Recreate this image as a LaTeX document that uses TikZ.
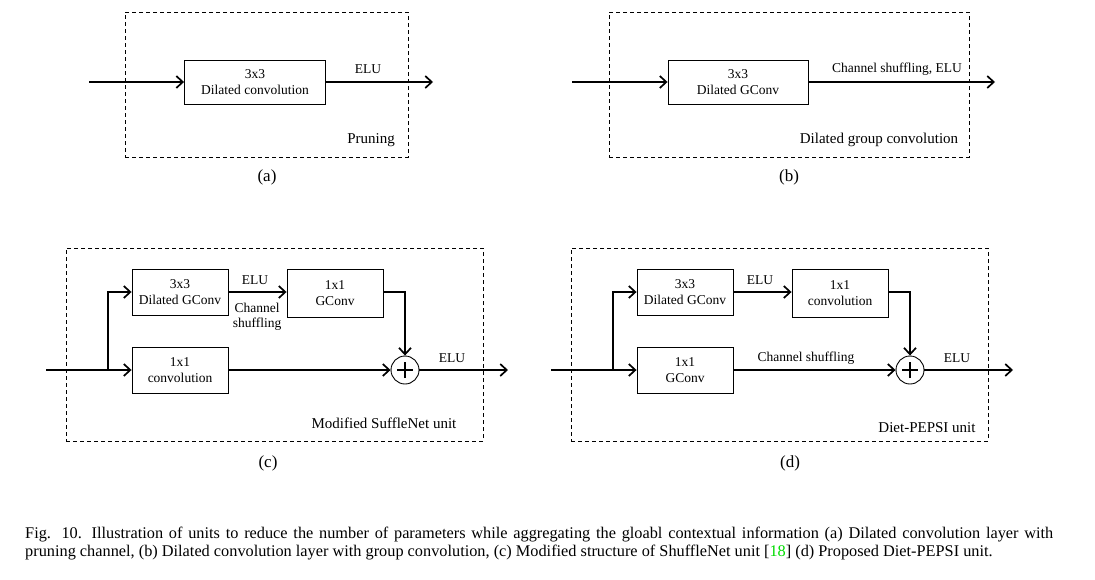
\documentclass[tikz,border=0pt]{standalone}
\usepackage{fontspec}
\setmainfont{Liberation Serif}
\usetikzlibrary{arrows.meta}
\definecolor{citegreen}{RGB}{0,220,0}
\newcommand{\boxfont}{\fontsize{13.5pt}{15.5pt}\selectfont}
\newcommand{\tagfont}{\fontsize{15pt}{17pt}\selectfont}
\newcommand{\subfont}{\fontsize{17pt}{19pt}\selectfont}
\newcommand{\capfont}{\fontsize{16.3pt}{18pt}\selectfont}
\tikzset{
  blk/.style={draw, line width=0.9pt, minimum width=96pt, minimum height=46pt, align=center, font=\boxfont, inner sep=0pt},
  flow/.style={line width=1.7pt, -{Straight Barb[length=6.5pt,width=12pt]}},
  frame/.style={draw, line width=0.8pt, dash pattern=on 4pt off 3pt, inner sep=0pt},
  lbl/.style={font=\boxfont, inner sep=0pt, align=center},
  tag/.style={font=\tagfont, inner sep=0pt},
  sub/.style={font=\subfont, inner sep=0pt},
  adder/.style={draw, circle, line width=0.9pt, minimum size=28pt, inner sep=0pt},
}
\begin{document}
\begin{tikzpicture}[x=1pt,y=-1pt]
\useasboundingbox (0,0) rectangle (1095,579);

% ---------------- (a)
\node[frame, minimum width=283pt, minimum height=145pt] (aframe) at (266.5,84.5) {};
\node[blk, minimum width=141pt, minimum height=44pt] (a1) at (255,82) {3x3\\Dilated convolution};
\coordinate (ain) at (89,82);
\coordinate (aout) at (433,82);
\draw[flow] (ain) -- (a1);
\draw[flow] (a1) -- (aout);
\node[lbl] (aelu) at (368,69) {ELU};
\node[tag] (atag) at (371,140) {Pruning};
\node[sub] (asub) at (267,177) {(a)};

% ---------------- (b)
\node[frame, minimum width=360pt, minimum height=145pt] (bframe) at (789,84.5) {};
\node[blk, minimum width=140pt, minimum height=44pt] (b1) at (738,82) {3x3\\Dilated GConv};
\coordinate (bin) at (572,82);
\coordinate (bout) at (995,82);
\draw[flow] (bin) -- (b1);
\draw[flow] (b1) -- (bout);
\node[lbl] (belu) at (897,69) {Channel shuffling, ELU};
\node[tag] (btag) at (879,140) {Dilated group convolution};
\node[sub] (bsub) at (789,177) {(b)};

% ---------------- (c)
\node[frame, minimum width=417pt, minimum height=193pt] (cframe) at (274.5,344.5) {};
\node[blk] (c1) at (180,292) {3x3\\Dilated GConv};
\node[blk, minimum height=48pt] (c2) at (335,293) {1x1\\GConv};
\node[blk] (c3) at (180,370) {1x1\\convolution};
\node[adder] (cadd) at (405,370) {};
\draw[line width=2.4pt] ([xshift=-8pt]cadd.center) -- ([xshift=8pt]cadd.center)
  ([yshift=-8pt]cadd.center) -- ([yshift=8pt]cadd.center);
\coordinate (cin) at (46,370);
\coordinate (csplit) at (108,370);
\coordinate (cout) at (508,370);
\draw[flow] (cin) -- (c3);
\draw[flow] (csplit) |- (c1);
\draw[flow] (c1.east) -- (c1.east -| c2.west);
\draw[flow] (c1.east -| c2.east) -| (cadd);
\draw[flow] (c3) -- (cadd);
\draw[flow] (cadd) -- (cout);
\node[lbl] (celu1) at (255,280) {ELU};
\node[lbl] (cshuf) at (257,317) {Channel\\shuffling};
\node[lbl] (celu2) at (452,358) {ELU};
\node[tag] (ctag) at (384,423) {Modified SuffleNet unit};
\node[sub] (csub) at (268,463) {(c)};

% ---------------- (d)
\node[frame, minimum width=417pt, minimum height=193pt] (dframe) at (779.5,344.5) {};
\node[blk] (d1) at (685,292) {3x3\\Dilated GConv};
\node[blk, minimum height=48pt] (d2) at (840,293) {1x1\\convolution};
\node[blk] (d3) at (685,370) {1x1\\GConv};
\node[adder] (dadd) at (910,370) {};
\draw[line width=2.4pt] ([xshift=-8pt]dadd.center) -- ([xshift=8pt]dadd.center)
  ([yshift=-8pt]dadd.center) -- ([yshift=8pt]dadd.center);
\coordinate (din) at (551,370);
\coordinate (dsplit) at (613,370);
\coordinate (dout) at (1013,370);
\draw[flow] (din) -- (d3);
\draw[flow] (dsplit) |- (d1);
\draw[flow] (d1.east) -- (d1.east -| d2.west);
\draw[flow] (d1.east -| d2.east) -| (dadd);
\draw[flow] (d3) -- (dadd);
\draw[flow] (dadd) -- (dout);
\node[lbl] (delu1) at (760,280) {ELU};
\node[lbl] (dshuf) at (806,358) {Channel shuffling};
\node[lbl] (delu2) at (957,358) {ELU};
\node[tag] (dtag) at (927,428) {Diet-PEPSI unit};
\node[sub] (dsub) at (790,463) {(d)};

% ---------------- caption
\node[anchor=north west, inner sep=0pt, align=left, font=\capfont] (cap) at (25,527)
{\makebox[1028pt][s]{Fig. 10.\hspace{0.6em}Illustration of units to reduce the number of parameters while aggregating the gloabl contextual information (a) Dilated convolution layer with}\\
pruning channel, (b) Dilated convolution layer with group convolution, (c) Modified structure of ShuffleNet unit [\textcolor{citegreen}{18}] (d) Proposed Diet-PEPSI unit.};
\end{tikzpicture}
\end{document}
